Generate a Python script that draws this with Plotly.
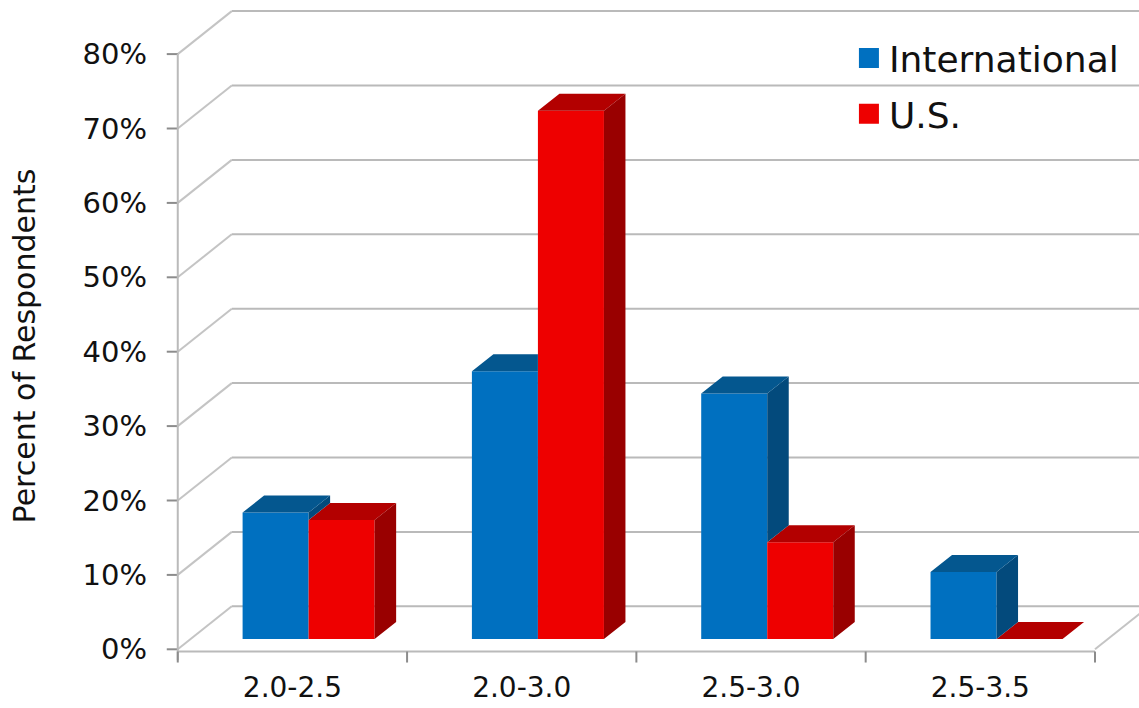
import plotly.graph_objects as go

# ---------------- data ----------------
categories = ["2.0-2.5", "2.0-3.0", "2.5-3.0", "2.5-3.5"]
international = [17, 36, 33, 9]
us = [16, 71, 13, 0]
y_ticks = [0, 10, 20, 30, 40, 50, 60, 70, 80]
y_tick_labels = ["0%", "10%", "20%", "30%", "40%", "50%", "60%", "70%", "80%"]

# ---------------- styling / geometry ----------------
W, H = 1139, 708
FONT = "DejaVu Sans"
TXT = "#111111"
BLUE, BLUE_TOP, BLUE_SIDE = "#0070C0", "#04578F", "#034A7C"
RED, RED_TOP, RED_SIDE = "#EE0000", "#B30000", "#990000"
GRID = "#BABABA"
DIAG = "#C4C4C4"
TICK = "#8C8C8C"

X0_PX = 178.0      # pixel of front-left corner
CAT_PX = 229.25    # pixels per category on the front plane
Y0_PX = 649.3      # pixel of 0% on the front plane
PCT_PX = 7.44      # pixels per percent

x_lo = -0.06
x_hi = (W - X0_PX) / CAT_PX
plot_left = X0_PX + x_lo * CAT_PX
plot_top, plot_bottom = 4.0, 688.0
xaxis_px = 664.0
y_lo = (Y0_PX - plot_bottom) / PCT_PX
y_hi = (Y0_PX - plot_top) / PCT_PX

WALL_DX, WALL_DY = 54 / CAT_PX, 43 / PCT_PX      # depth of the back wall
BAR_DX0, BAR_BASE = 16.2 / CAT_PX, 10.3 / PCT_PX  # bar front plane offset
BAR_W = 66 / CAT_PX
TOP_DX, TOP_DY = 21.5 / CAT_PX, 17 / PCT_PX       # bar depth
TICK_LEN_X = 11 / CAT_PX
TICK_LEN_Y = 11 / PCT_PX

centers = [i + 0.5 for i in range(len(categories))]
x_int = [c + BAR_DX0 - BAR_W / 2 for c in centers]
x_us = [c + BAR_DX0 + BAR_W / 2 for c in centers]

fig = go.Figure()

# front faces
fig.add_bar(x=x_int, y=international, base=BAR_BASE, width=BAR_W,
            marker=dict(color=BLUE, line=dict(width=0)), name="International",
            showlegend=False, hoverinfo="skip")
fig.add_bar(x=x_us, y=us, base=BAR_BASE, width=BAR_W,
            marker=dict(color=RED, line=dict(width=0)), name="U.S.",
            showlegend=False, hoverinfo="skip")


def poly_trace(polys, color):
    xs, ys = [], []
    for p in polys:
        for (px, py) in p:
            xs.append(px)
            ys.append(py)
        xs.append(p[0][0]); ys.append(p[0][1])
        xs.append(None); ys.append(None)
    return go.Scatter(x=xs, y=ys, mode="lines", fill="toself", fillcolor=color,
                      line=dict(width=0, color=color), showlegend=False,
                      hoverinfo="skip")


red_tops, red_sides, blue_sides, blue_tops = [], [], [], []
for i in range(len(categories)):
    bl = x_int[i] - BAR_W / 2
    br = x_int[i] + BAR_W / 2
    rl = x_us[i] - BAR_W / 2
    rr = x_us[i] + BAR_W / 2
    bt = BAR_BASE + international[i]
    rt = BAR_BASE + us[i]
    red_tops.append([(rl, rt), (rr, rt), (rr + TOP_DX, rt + TOP_DY), (rl + TOP_DX, rt + TOP_DY)])
    red_sides.append([(rr, BAR_BASE), (rr + TOP_DX, BAR_BASE + TOP_DY),
                      (rr + TOP_DX, rt + TOP_DY), (rr, rt)])
    lo = max(BAR_BASE, rt)
    if lo < bt:
        blue_sides.append([(br, lo), (br + TOP_DX, lo + TOP_DY),
                           (br + TOP_DX, bt + TOP_DY), (br, bt)])
    if rt > bt:
        blue_tops.append([(bl, bt), (br, bt), (br, bt + TOP_DY), (bl + TOP_DX, bt + TOP_DY)])
    else:
        blue_tops.append([(bl, bt), (br, bt), (br + TOP_DX, bt + TOP_DY), (bl + TOP_DX, bt + TOP_DY)])

fig.add_trace(poly_trace(red_tops, RED_TOP))
fig.add_trace(poly_trace(red_sides, RED_SIDE))
fig.add_trace(poly_trace(blue_sides, BLUE_SIDE))
fig.add_trace(poly_trace(blue_tops, BLUE_TOP))

# legend entries
for name, col in [("International", BLUE), ("U.S.", RED)]:
    fig.add_trace(go.Scatter(x=[None], y=[None], mode="markers", name=name,
                             legendgroup=name,
                             marker=dict(symbol="square", size=16, color=col,
                                         line=dict(width=4, color=col))))

# walls, gridlines, axes (drawn beneath the bars)
shapes = []
n = len(categories)
for v in y_ticks:
    shapes.append(dict(type="line", x0=0, y0=v, x1=WALL_DX, y1=v + WALL_DY,
                       line=dict(color=DIAG, width=2)))
    shapes.append(dict(type="line", x0=WALL_DX, y0=v + WALL_DY, x1=x_hi, y1=v + WALL_DY,
                       line=dict(color=GRID, width=2)))
    shapes.append(dict(type="line", x0=-TICK_LEN_X, y0=v, x1=0, y1=v,
                       line=dict(color=TICK, width=2)))
shapes.append(dict(type="line", x0=n, y0=0, x1=n + WALL_DX, y1=WALL_DY,
                   line=dict(color=DIAG, width=2)))
shapes.append(dict(type="line", x0=0, y0=-0.3, x1=n, y1=-0.3,
                   line=dict(color=GRID, width=2)))
shapes.append(dict(type="line", x0=0, y0=-TICK_LEN_Y, x1=0, y1=y_ticks[-1],
                   line=dict(color=GRID, width=2)))
for k in range(n + 1):
    shapes.append(dict(type="line", x0=k, y0=-0.3, x1=k, y1=-0.3 - TICK_LEN_Y,
                       line=dict(color=TICK, width=2)))
for s in shapes:
    s.update(xref="x", yref="y", layer="below")

plot_w = (x_hi - x_lo) * CAT_PX
plot_h = plot_bottom - plot_top
legend_left_px = 849.0
legend_top_px = 28.0

fig.update_layout(
    width=W, height=H,
    margin=dict(l=plot_left, r=W - plot_left - plot_w, t=plot_top, b=H - plot_bottom,
                autoexpand=False),
    paper_bgcolor="white", plot_bgcolor="white",
    barmode="overlay",
    font=dict(family=FONT, color=TXT),
    hovermode=False,
    shapes=shapes,
    legend=dict(x=(legend_left_px - plot_left) / plot_w,
                y=(plot_bottom - legend_top_px) / plot_h,
                xanchor="left", yanchor="top",
                font=dict(family=FONT, size=36, color=TXT),
                bgcolor="rgba(0,0,0,0)", tracegroupgap=6,
                itemclick=False, itemdoubleclick=False),
    xaxis=dict(range=[x_lo, x_hi], tickmode="array", tickvals=centers,
               ticktext=categories, showgrid=False, zeroline=False,
               showline=False, ticks="", ticklabelstandoff=4,
               anchor="free", position=(plot_bottom - xaxis_px) / plot_h,
               tickfont=dict(family=FONT, size=28, color=TXT),
               fixedrange=True),
    yaxis=dict(range=[y_lo, y_hi], tickmode="array", tickvals=y_ticks,
               ticktext=y_tick_labels, showgrid=False, zeroline=False,
               showline=False, ticks="", ticklabelstandoff=16,
               tickfont=dict(family=FONT, size=29, color=TXT),
               title=dict(text="Percent of Respondents",
                          font=dict(family=FONT, size=30, color=TXT),
                          standoff=38),
               fixedrange=True),
)

fig.write_html("out.html")
